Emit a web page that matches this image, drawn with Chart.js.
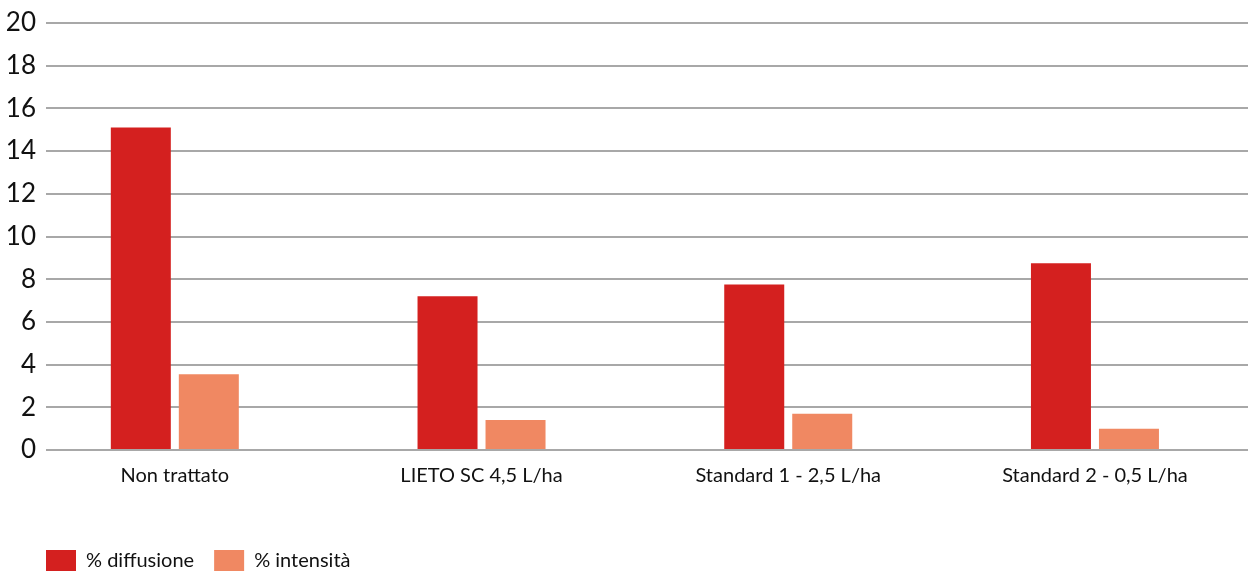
<!DOCTYPE html>
<html>
<head>
<meta charset="utf-8">
<script src="https://cdn.jsdelivr.net/npm/chart.js@4.4.1/dist/chart.umd.min.js"></script>
<style>
  html, body { margin: 0; padding: 0; background: #ffffff; }
  canvas { display: block; }
</style>
</head>
<body>
<canvas id="chart" width="1248" height="573"></canvas>
<script>
// valori
const categories = ['Non trattato', 'LIETO SC 4,5 L/ha', 'Standard 1 - 2,5 L/ha', 'Standard 2 - 0,5 L/ha'];
const diffusione = [15.1, 7.2, 7.75, 8.75];
const intensita = [3.55, 1.4, 1.7, 1.0];
const yTicks = [0, 2, 4, 6, 8, 10, 12, 14, 16, 18, 20];

const fontFamily = 'Lato, "Open Sans", sans-serif';

const ctx = document.getElementById('chart').getContext('2d');

// sposta la legenda sotto l'inizio dell'area del grafico
const legendShift = {
    id: 'legendShift',
    afterLayout: function (chart) {
        chart.legend.left += 26;
    }
};

new Chart(ctx, {
    type: 'bar',
    plugins: [legendShift],
    data: {
        datasets: [
            {
                label: '% diffusione',
                backgroundColor: '#d4201f',
                data: diffusione.map(function (v, i) { return { x: i, y: v }; })
            },
            {
                label: '% intensità',
                backgroundColor: '#f08862',
                data: intensita.map(function (v, i) { return { x: i, y: v }; })
            }
        ]
    },
    options: {
        responsive: false,
        animation: false,
        categoryPercentage: 0.4434,
        barPercentage: 0.8824,
        layout: {
            padding: { left: 0, top: 22, right: 0, bottom: -8 }
        },
        plugins: {
            tooltip: { enabled: false },
            legend: {
                position: 'bottom',
                align: 'start',
                labels: {
                    boxWidth: 30,
                    boxHeight: 21,
                    padding: 20,
                    color: '#111111',
                    font: { family: fontFamily, size: 20 }
                }
            }
        },
        scales: {
            x: {
                type: 'linear',
                offset: false,
                min: -0.42,
                max: 3.499,
                grid: { display: false },
                border: { display: false },
                afterBuildTicks: function (scale) {
                    scale.ticks = categories.map(function (c, i) { return { value: i }; });
                },
                afterFit: function (scale) {
                    scale.height = 80;
                },
                ticks: {
                    autoSkip: false,
                    maxRotation: 0,
                    padding: 6,
                    color: '#111111',
                    font: { family: fontFamily, size: 20 },
                    callback: function (value) {
                        return categories[value] !== undefined ? categories[value] : '';
                    }
                }
            },
            y: {
                min: 0,
                max: 20,
                afterBuildTicks: function (scale) {
                    scale.ticks = yTicks.map(function (v) { return { value: v }; });
                },
                afterFit: function (scale) {
                    scale.width = 46;
                },
                grid: {
                    color: '#a8a8a8',
                    lineWidth: 2,
                    drawTicks: false
                },
                border: { display: false },
                ticks: {
                    padding: 10,
                    color: '#111111',
                    font: { family: fontFamily, size: 26, lineHeight: 1 }
                }
            }
        }
    }
});
</script>
</body>
</html>
